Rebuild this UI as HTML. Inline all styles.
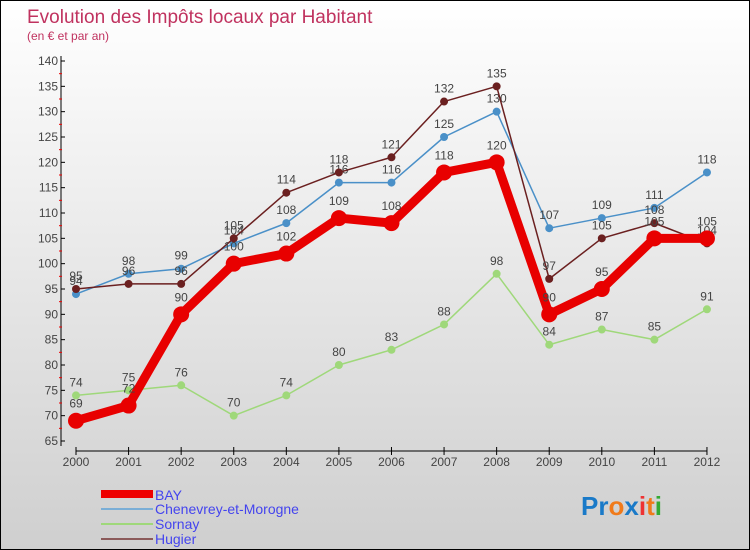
<!DOCTYPE html>
<html><head><meta charset="utf-8"><style>
body{margin:0}
#c{width:748px;height:548px;border:1px solid #000;background:linear-gradient(#fff,#cfcfcf);position:relative;font-family:"Liberation Sans",sans-serif;overflow:hidden}
</style></head><body>
<div id="c">
<svg width="748" height="548">
<text x="26" y="22" font-size="19" fill="#c0325f">Evolution des Impôts locaux par Habitant</text>
<text x="26" y="39" font-size="12" fill="#c0325f">(en € et par an)</text>
<g id="axes"></g><g id="series"></g>
<g font-size="14" fill="#4444ee">
<rect x="100" y="489" width="52" height="8" fill="#e00"/>
<text x="154" y="499">BAY</text>
<rect x="100" y="507" width="52" height="2" fill="#7aaed6"/>
<text x="154" y="513">Chenevrey-et-Morogne</text>
<rect x="100" y="522" width="52" height="2" fill="#9fd87a"/>
<text x="154" y="528">Sornay</text>
<rect x="100" y="537" width="52" height="2" fill="#8b5a5a"/>
<text x="154" y="543">Hugier</text>
</g>
<text x="580" y="514" font-size="26" font-weight="bold"><tspan fill="#1a7ac8">Pr</tspan><tspan fill="#f07a1a">o</tspan><tspan fill="#1a7ac8">x</tspan><tspan fill="#e33">i</tspan><tspan fill="#f07a1a">t</tspan><tspan fill="#3a3">i</tspan></text>
</svg></div>
<script>
const years=[2000,2001,2002,2003,2004,2005,2006,2007,2008,2009,2010,2011,2012];
const bay=[69,72,90,100,102,109,108,118,120,90,95,105,105];
const chenevrey=[94,98,99,104,108,116,116,125,130,107,109,111,118];
const sornay=[74,75,76,70,74,80,83,88,98,84,87,85,91];
const hugier=[95,96,96,105,114,118,121,132,135,97,105,108,104];
const yTicks=[65,70,75,80,85,90,95,100,105,110,115,120,125,130,135,140];
const NS="http://www.w3.org/2000/svg";
const x=i=>75+i*52.58, y=v=>440-(v-65)*380/75;
function mk(p,t,a){const e=document.createElementNS(NS,t);for(const k in a)e.setAttribute(k,a[k]);p.appendChild(e);return e;}
const ax=document.getElementById('axes');
let l=mk(ax,'line',{x1:60,y1:55,x2:60,y2:445,stroke:'#000'});


l=mk(ax,'line',{x1:75,y1:450,x2:706,y2:450,stroke:'#000'});


yTicks.forEach(v=>{mk(ax,'line',{x1:60,y1:y(v),x2:64,y2:y(v),stroke:'#000'});
 if(v<140)mk(ax,'line',{x1:58,y1:y(v+2.5),x2:61,y2:y(v+2.5),stroke:'#e00'});
 const t=mk(ax,'text',{x:57,y:y(v)+4,'font-size':12,fill:'#444','text-anchor':'end'});t.textContent=v;
 
 });
years.forEach((yr,i)=>{mk(ax,'line',{x1:x(i),y1:446,x2:x(i),y2:454,stroke:'#000'});
 const t=mk(ax,'text',{x:x(i),y:465,'font-size':12,fill:'#444','text-anchor':'middle'});t.textContent=yr;
 
 });
const sg=document.getElementById('series');
function draw(vals,name,col,w,r){const g=mk(sg,'g',{});
 
 
 mk(g,'polyline',{points:vals.map((v,i)=>x(i)+','+y(v)).join(' '),fill:'none',stroke:col,'stroke-width':w,'stroke-linejoin':'round'});
 vals.forEach((v,i)=>{const c=mk(g,'circle',{cx:x(i),cy:y(v),r:r,fill:col});
  
  
  const t=mk(g,'text',{x:x(i),y:y(v)-9-(r>5?4:0),'font-size':12,fill:'#444','text-anchor':'middle'});t.textContent=v;
  
  });}
draw(sornay,'sornay','#9fd87a',1.5,4);
draw(chenevrey,'chenevrey','#4a90c8',1.5,4);
draw(hugier,'hugier','#6b2020',1.5,4);
draw(bay,'bay','#e80000',9,8);
</script>
</body></html>
